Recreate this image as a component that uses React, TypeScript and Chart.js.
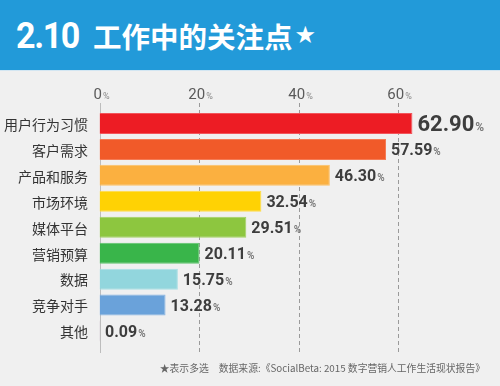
import React, { useEffect, useRef } from "react";
import { Chart, registerables } from "chart.js";

Chart.register(...registerables);

const categories = ["用户行为习惯", "客户需求", "产品和服务", "市场环境", "媒体平台", "营销预算", "数据", "竞争对手", "其他"];
const values = [62.9, 57.59, 46.3, 32.54, 29.51, 20.11, 15.75, 13.28, 0.09];
const valueLabels = ["62.90", "57.59", "46.30", "32.54", "29.51", "20.11", "15.75", "13.28", "0.09"];
const tickValues = [0, 20, 40, 60];
const barColors = ["#ed1c24", "#f15a29", "#fbb040", "#ffd204", "#8dc63f", "#39b54a", "#92d6dd", "#6aa2da", "#9c7f93"];
const barBorders = ["#f2555b", "#f47b55", "#fcc066", "#ffdc45", "#a3d163", "#5ec36c", "#a8dfe4", "#88b5e2", "#b49fae"];

const decorPlugin = {
  id: "decor",
  beforeDatasetsDraw(chart: any) {
    const ctx = chart.ctx;
    const x = chart.scales.x;
    const y = chart.scales.y;
    const top = 103;
    const bottom = 353;
    ctx.save();
    tickValues.forEach((t) => {
      const px = Math.round(x.getPixelForValue(t)) + 0.5;
      ctx.beginPath();
      if (t === 0) {
        ctx.setLineDash([]);
        ctx.strokeStyle = "#bdbdbd";
      } else {
        ctx.setLineDash([4, 3]);
        ctx.strokeStyle = "#9a9a9a";
      }
      ctx.lineWidth = 1;
      ctx.moveTo(px, top);
      ctx.lineTo(px, bottom);
      ctx.stroke();
      ctx.setLineDash([]);
      ctx.textBaseline = "alphabetic";
      ctx.textAlign = "left";
      const num = String(t);
      ctx.font = "400 15px Roboto";
      const nw = ctx.measureText(num).width;
      ctx.font = "400 9px Roboto";
      const pw = ctx.measureText("%").width;
      const startX = px - (nw + pw + 1) / 2 + 1;
      ctx.font = "400 15px Roboto";
      ctx.fillStyle = "#5a5a5a";
      ctx.fillText(num, startX, 99);
      ctx.font = "400 9px Roboto";
      ctx.fillStyle = "#888";
      ctx.fillText("%", startX + nw + 1, 99);
    });
    ctx.font = "14px 'Noto Sans CJK SC'";
    ctx.fillStyle = "#333";
    ctx.textAlign = "right";
    ctx.textBaseline = "middle";
    categories.forEach((c, i) => {
      ctx.fillText(c, 88, y.getPixelForValue(i) + 1);
    });
    ctx.restore();
  },
  afterDatasetsDraw(chart: any) {
    const ctx = chart.ctx;
    const x = chart.scales.x;
    const y = chart.scales.y;
    ctx.save();
    ctx.textBaseline = "alphabetic";
    ctx.textAlign = "left";
    values.forEach((v, i) => {
      const big = i === 0;
      const px = x.getPixelForValue(v) + 5;
      const cy = y.getPixelForValue(i);
      ctx.font = big ? "bold 22px Roboto" : "bold 16px Roboto";
      ctx.fillStyle = "#3d3d3d";
      const label = valueLabels[i];
      const base = cy + (big ? 8 : 6);
      ctx.fillText(label, px, base);
      const w = ctx.measureText(label).width;
      ctx.font = big ? "bold 12px Roboto" : "bold 10px Roboto";
      ctx.fillStyle = "#7a7a7a";
      ctx.fillText("%", px + w + 1, base);
    });
    ctx.restore();
  },
};

export default function App() {
  const ref = useRef<HTMLCanvasElement>(null);
  useEffect(() => {
    if (!ref.current) return;
    const chart = new Chart(ref.current, {
      type: "bar",
      data: {
        labels: categories,
        datasets: [
          {
            data: values,
            backgroundColor: barColors,
            borderColor: barBorders,
            borderWidth: 1,
            barPercentage: 0.81,
            categoryPercentage: 1,
          },
        ],
      },
      options: {
        indexAxis: "y",
        animation: false,
        responsive: false,
        maintainAspectRatio: false,
        layout: { padding: { left: 99.5, right: 52.25, top: 110.5, bottom: 42 } },
        plugins: { legend: { display: false }, tooltip: { enabled: false } },
        scales: {
          x: { display: false, min: 0, max: 70 },
          y: { display: false },
        },
      },
      plugins: [decorPlugin],
    });
    return () => chart.destroy();
  }, []);

  return (
    <div style={{ position: "absolute", left: 0, top: 0, width: 500, height: 386, background: "#f0f0f0", overflow: "hidden" }}>
      <div
        style={{
          position: "absolute",
          left: 0,
          top: 0,
          width: 500,
          height: 70,
          background: "#229ad9",
          borderBottom: "1px solid #d3e6f2",
        }}
      />
      <div
        style={{
          position: "absolute",
          left: 16,
          top: 10,
          height: 50,
          display: "flex",
          alignItems: "center",
          color: "#fff",
          whiteSpace: "nowrap",
        }}
      >
        <span style={{ fontFamily: "Roboto", fontWeight: 700, fontSize: 37, letterSpacing: -1.5, transform: "scaleX(0.92)", transformOrigin: "left center", display: "inline-block", width: 68 }}>2.10</span>
        <span style={{ fontFamily: "'Noto Sans CJK SC'", fontWeight: 700, fontSize: 28.5, marginLeft: 9 }}>工作中的关注点</span>
        <span style={{ fontFamily: "'DejaVu Sans'", fontSize: 24, marginLeft: 2 }}>★</span>
      </div>
      <canvas ref={ref} width={500} height={386} style={{ position: "absolute", left: 0, top: 0, width: 500, height: 386 }} />
      <div
        style={{
          position: "absolute",
          right: 15,
          top: 360,
          fontFamily: "'Noto Sans CJK SC'",
          fontSize: 9.8,
          color: "#666",
          whiteSpace: "nowrap",
          lineHeight: "16px",
        }}
      >
        <span>★表示多选</span>
        <span style={{ marginLeft: 10 }}>数据来源:《SocialBeta: 2015 数字营销人工作生活现状报告》</span>
      </div>
    </div>
  );
}
